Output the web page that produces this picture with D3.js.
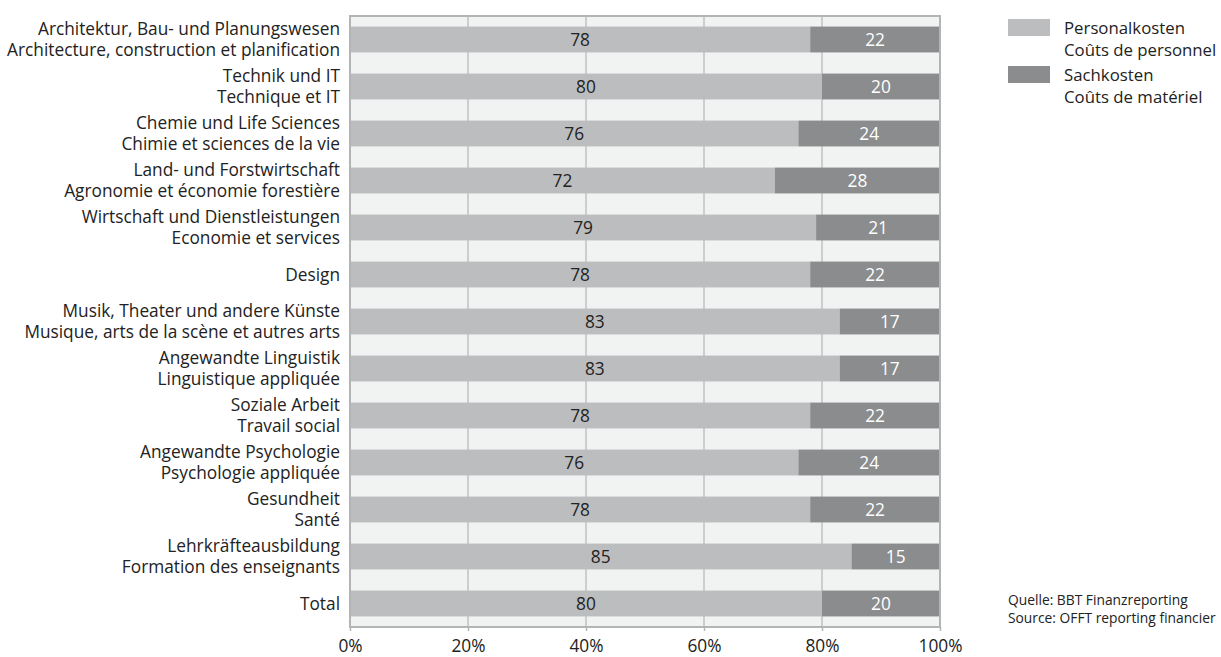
<!DOCTYPE html>
<html><head><meta charset="utf-8">
<script src="https://cdn.jsdelivr.net/npm/d3@7"></script>
<style>body{margin:0;background:#fff}svg{display:block}text{font-family:"Open Sans",sans-serif}</style>
</head><body><svg id="c" width="1221" height="657"></svg>
<script>
const labelsDe = ["Architektur, Bau- und Planungswesen","Technik und IT","Chemie und Life Sciences","Land- und Forstwirtschaft","Wirtschaft und Dienstleistungen","Design","Musik, Theater und andere Künste","Angewandte Linguistik","Soziale Arbeit","Angewandte Psychologie","Gesundheit","Lehrkräfteausbildung","Total"];
const labelsFr = ["Architecture, construction et planification","Technique et IT","Chimie et sciences de la vie","Agronomie et économie forestière","Economie et services","","Musique, arts de la scène et autres arts","Linguistique appliquée","Travail social","Psychologie appliquée","Santé","Formation des enseignants",""];
const personal = [78,80,76,72,79,78,83,83,78,76,78,85,80];
const sach = [22,20,24,28,21,22,17,17,22,24,22,15,20];
const ticks = [0,20,40,60,80,100];
const seriesNames = [["Personalkosten","Coûts de personnel"],["Sachkosten","Coûts de matériel"]];
const colors = ["#bcbdbf","#8b8c8e"];
const source = ["Quelle: BBT Finanzreporting","Source: OFFT reporting financier"];

const FS = 17.3;
const svg = d3.select("#c");
const x = d3.scaleLinear().domain([0,100]).range([350,940]);
const y = d3.scaleBand().domain(d3.range(labelsDe.length)).range([16,627]).paddingInner(0.45).paddingOuter(0.225);

svg.append("rect").attr("x",350).attr("y",16).attr("width",590).attr("height",611).attr("fill","#f1f2f2");
svg.selectAll(".g").data(ticks.slice(1,-1)).enter().append("line")
 .attr("x1",d=>x(d)).attr("x2",d=>x(d)).attr("y1",16).attr("y2",627)
 .attr("stroke","#bfc0c1").attr("stroke-width",1.5);

const g = svg.append("g");
d3.range(labelsDe.length).forEach(i=>{
  const y0 = y(i), h = y.bandwidth();
  g.append("rect").attr("x",x(0)).attr("y",y0).attr("width",x(personal[i])-x(0)).attr("height",h).attr("fill",colors[0]);
  g.append("rect").attr("x",x(personal[i])).attr("y",y0).attr("width",x(personal[i]+sach[i])-x(personal[i])).attr("height",h).attr("fill",colors[1]);
  g.append("text").attr("x",(x(0)+x(personal[i]))/2).attr("y",y0+h/2).attr("dy","0.36em").attr("text-anchor","middle").attr("font-size",FS).attr("fill","#222").text(personal[i]);
  g.append("text").attr("x",(x(personal[i])+x(100))/2).attr("y",y0+h/2).attr("dy","0.36em").attr("text-anchor","middle").attr("font-size",FS).attr("fill","#fff").text(sach[i]);
  const cy = y0+h/2;
  if (labelsFr[i]) {
    svg.append("text").attr("x",340).attr("y",cy-10.5).attr("dy","0.36em").attr("text-anchor","end").attr("font-size",FS).attr("fill","#222").text(labelsDe[i]);
    svg.append("text").attr("x",340).attr("y",cy+10.5).attr("dy","0.36em").attr("text-anchor","end").attr("font-size",FS).attr("fill","#222").text(labelsFr[i]);
  } else {
    svg.append("text").attr("x",340).attr("y",cy).attr("dy","0.36em").attr("text-anchor","end").attr("font-size",FS).attr("fill","#222").text(labelsDe[i]);
  }
});

svg.append("rect").attr("x",350).attr("y",16).attr("width",590).attr("height",611).attr("fill","none").attr("stroke","#b3b4b5").attr("stroke-width",2);

const ax = svg.append("g").attr("transform","translate(0,627)")
  .call(d3.axisBottom(x).tickValues(ticks).tickFormat(d=>d+"%").tickSize(4).tickPadding(9));
ax.select(".domain").remove();
ax.selectAll("line").attr("stroke","#b3b4b5").attr("stroke-width",1.5);
ax.selectAll("text").attr("font-size",FS).attr("fill","#222").attr("font-family","'Open Sans',sans-serif");

const lg = svg.append("g");
seriesNames.forEach((s,i)=>{
  const top = 19 + i*47;
  lg.append("rect").attr("x",1008).attr("y",top).attr("width",42).attr("height",17).attr("fill",colors[i]);
  lg.append("text").attr("x",1064).attr("y",top+8.5).attr("dy","0.36em").attr("font-size",16.8).attr("fill","#222").text(s[0]);
  lg.append("text").attr("x",1064).attr("y",top+30.5).attr("dy","0.36em").attr("font-size",16.8).attr("fill","#222").text(s[1]);
});
source.forEach((s,i)=>{
  svg.append("text").attr("x",1008).attr("y",600+i*18).attr("dy","0.36em").attr("font-size",13.8).attr("fill","#222").text(s);
});
</script></body></html>
